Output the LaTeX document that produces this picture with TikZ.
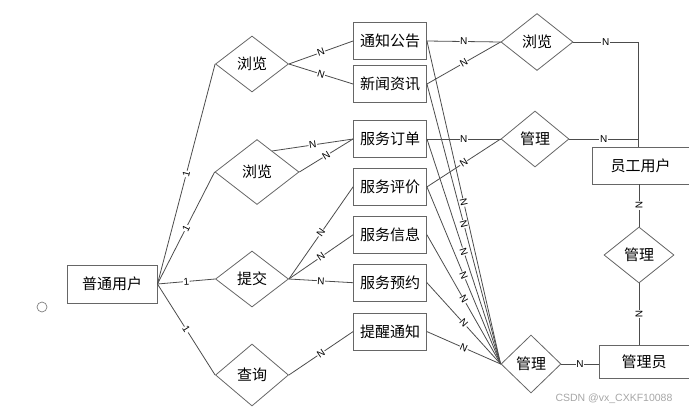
\documentclass[tikz,border=0pt]{standalone}
\usepackage{fontspec}
\setmainfont{Noto Sans CJK SC}
\newfontfamily\cardfont{Liberation Sans}
\usetikzlibrary{shapes.geometric, positioning, calc}

\begin{document}
\begin{tikzpicture}[x=1pt, y=-1pt, node distance=10pt,
  every node/.style={font=\fontsize{15}{18}\selectfont},
  entity/.style={draw=black!60, line width=0.9pt, minimum width=73pt, minimum height=37pt, inner sep=2pt},
  relation/.style={draw=black!60, line width=0.8pt, diamond, inner sep=0pt, minimum width=73pt, minimum height=56pt},
  link/.style={draw=black!70, line width=0.8pt},
  card/.style={font=\cardfont\fontsize{10}{10}\selectfont, sloped, fill=white, inner sep=0.6pt, pos=0.5}]
  \useasboundingbox (0,0) rectangle (689,413);

  % left side
  \node[entity, minimum width=90pt, minimum height=38pt] (user) at (112,284) {普通用户};
  \node[circle, draw=black!50, line width=0.7pt, minimum size=10pt, inner sep=0pt] (dot) at (42,307) {};
  \node[relation] (vb1) at (252,64) {浏览};
  \node[relation, minimum width=84pt, minimum height=65pt] (vb2) at (257,172) {浏览};
  \node[relation] (tj) at (252,279) {提交};
  \node[relation, minimum height=62pt] (cx) at (252,375) {查询};

  % middle column
  \node[entity] (tz) at (390,41) {通知公告};
  \node[entity] (xw) at (390,84) {新闻资讯};
  \node[entity] (dd) at (390,139) {服务订单};
  \node[entity, below=10pt of dd] (pj) {服务评价};
  \node[entity, below=10pt of pj] (xx) {服务信息};
  \node[entity, below=10pt of xx] (yy) {服务预约};
  \node[entity, below=11pt of yy] (tx) {提醒通知};

  % right side
  \node[relation, minimum width=72pt, minimum height=57pt] (vbR) at (537,42) {浏览};
  \node[relation, minimum width=68pt] (glU) at (535,139) {管理};
  \node[relation, minimum width=60pt, minimum height=58pt] (glB) at (531,364) {管理};
  \node[entity, minimum width=97pt] (yg) at (640.5,165.5) {员工用户};
  \node[relation, minimum width=70pt] (glM) at (639,255) {管理};
  \node[entity, minimum width=90pt, minimum height=33pt] (gly) at (644,361.5) {管理员};
  \coordinate (yc) at (638,42);

  % user links
  \draw[link] (user.east) -- node[card]{1} (vb1.west);
  \draw[link] (user.east) -- node[card]{1} (vb2.west);
  \draw[link] (user.east) -- node[card]{1} (tj.west);
  \draw[link] (user.east) -- node[card]{1} (cx.west);

  % left relations to middle
  \draw[link] (vb1.east) -- node[card]{N} (tz.west);
  \draw[link] (vb1.east) -- node[card]{N} (xw.west);
  \draw[link] ($(vb2.north)!0.36!(vb2.east)$) -- node[card]{N} (dd.west);
  \draw[link] (vb2.east) -- node[card]{N} (dd.west);
  \draw[link] (tj.east) -- node[card]{N} (pj.west);
  \draw[link] (tj.east) -- node[card]{N} (xx.west);
  \draw[link] (tj.east) -- node[card]{N} (yy.west);
  \draw[link] (cx.east) -- node[card]{N} (tx.west);

  % middle to right relations
  \draw[link] (tz.east) -- node[card]{N} (vbR.west);
  \draw[link] (xw.east) -- node[card]{N} (vbR.west);
  \draw[link] (dd.east) -- node[card]{N} (glU.west);
  \draw[link] (pj.east) -- node[card]{N} (glU.west);
  \foreach \e in {tz, xw, dd, pj, xx, yy, tx}
    \draw[link] (\e.east) -- node[card]{N} (glB.west);

  % staff and admin
  \draw[link] (vbR.east) -- node[card]{N} (yc) -- (yc |- yg.north);
  \draw[link] (glU.east) -- node[card]{N} (glU.east -| yc);
  \draw[link] (glM.north |- yg.south) -- node[card]{N} (glM.north);
  \draw[link] (glM.south) -- node[card]{N} (glM.south |- gly.north);
  \draw[link] (glB.east) -- node[card]{N} (glB.east -| gly.west);

  \node[text=black!35, font=\cardfont\fontsize{10.5}{12}\selectfont] (mark) at (614,399) {CSDN @vx\_CXKF10088};
\end{tikzpicture}
\end{document}
